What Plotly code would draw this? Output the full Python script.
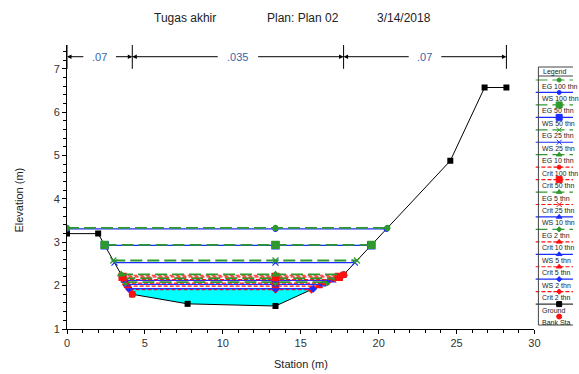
import numpy as np
import plotly.graph_objects as go

# ---------------- data ----------------
ground_sta = [0, 2, 4.19, 7.74, 13.38, 17.75, 24.6, 26.8, 28.2]
ground_elev = [3.2, 3.2, 1.8, 1.58, 1.53, 2.25, 4.88, 6.57, 6.57]
bank_sta = [4.19, 17.75]
bank_elev = [1.8, 2.25]
mann_bounds = [0, 4.19, 17.75, 28.2]
mann_n = [".07", ".035", ".07"]

profiles = ["EG 100 thn", "WS 100 thn", "EG 50 thn", "WS 50 thn", "EG 25 thn",
            "WS 25 thn", "EG 10 thn", "Crit 100 thn", "Crit 50 thn", "EG 5 thn",
            "Crit 25 thn", "WS 10 thn", "EG 2 thn", "Crit 10 thn", "WS 5 thn",
            "Crit 5 thn", "WS 2 thn", "Crit 2 thn"]
levels = [3.33, 3.31, 2.94, 2.93, 2.58, 2.53, 2.26, 2.24, 2.20, 2.17,
          2.14, 2.12, 2.08, 2.06, 2.03, 1.99, 1.93, 1.91]
mid_marker_sta = 13.38
fill_profile = "WS 2 thn"

title_parts = ["Tugas akhir", "Plan: Plan 02", "3/14/2018"]

# ---------------- styles ----------------
GREEN = "#2e9a2e"
BLUE = "#1a2cff"
RED = "#ff1010"
FONT = "Liberation Sans, Arial, sans-serif"

kind_style = {
    "EG": dict(color=GREEN, dash="12px,5px", width=1.8),
    "WS": dict(color=BLUE, dash="solid", width=1.2),
    "Crit": dict(color=RED, dash="4px,2px", width=1.2),
}
period_symbol = {"100": ("circle", 5), "50": ("square", 7), "25": ("x-thin", 6),
                 "10": ("triangle-up", 6), "5": ("triangle-up", 6), "2": ("diamond", 5)}


def crossings(h):
    st = np.array(ground_sta, float)
    el = np.array(ground_elev, float)
    if el[0] <= h:
        left = st[0]
    else:
        left = None
        for i in range(len(st) - 1):
            if el[i] >= h > el[i + 1]:
                left = st[i] + (el[i] - h) / (el[i] - el[i + 1]) * (st[i + 1] - st[i])
                break
    if el[-1] <= h:
        right = st[-1]
    else:
        right = None
        for i in range(len(st) - 1, 0, -1):
            if el[i] >= h > el[i - 1]:
                right = st[i - 1] + (h - el[i - 1]) / (el[i] - el[i - 1]) * (st[i] - st[i - 1])
                break
    return left, right


fig = go.Figure()

# water fill
h_fill = levels[profiles.index(fill_profile)]
lf, rf = crossings(h_fill)
fx = [lf] + [s for s, e in zip(ground_sta, ground_elev) if lf < s < rf] + [rf]
fy = [h_fill] + [e for s, e in zip(ground_sta, ground_elev) if lf < s < rf] + [h_fill]
fig.add_trace(go.Scatter(x=fx, y=fy, fill="toself", fillcolor="#00ffff", mode="lines",
                         line=dict(width=0), showlegend=False, hoverinfo="skip"))

# ground
fig.add_trace(go.Scatter(x=ground_sta, y=ground_elev, mode="lines+markers",
                         line=dict(color="black", width=1),
                         marker=dict(symbol="square", size=6, color="black"),
                         showlegend=False))

# profiles (draw from lowest to highest)
for name, h in reversed(list(zip(profiles, levels))):
    kind, per, _ = name.split(" ")
    st = kind_style[kind]
    sym, sz = period_symbol[per]
    l, r = crossings(h)
    fig.add_trace(go.Scatter(x=[l, r], y=[h, h], mode="lines",
                             line=dict(color=st["color"], dash=st["dash"], width=st["width"]),
                             showlegend=False))
    fig.add_trace(go.Scatter(x=[l, mid_marker_sta, r], y=[h, h, h], mode="markers",
                             marker=dict(symbol=sym, size=sz, color=st["color"],
                                         line=dict(color=st["color"], width=1.2)),
                             showlegend=False))

# bank stations
fig.add_trace(go.Scatter(x=bank_sta, y=bank_elev, mode="markers",
                         marker=dict(symbol="circle", size=7, color=RED), showlegend=False))

# ---------------- layout geometry (page pixels) ----------------
W, H = 579, 374
plot_left, plot_right, plot_top, plot_bottom = 67, 540, 45, 329
ML, MT, MB, MR = plot_left, plot_top, H - plot_bottom, 0
pw = W - ML - MR
ph = H - MT - MB


def px_x(p):          # page pixel -> paper x
    return (p - ML) / pw


def px_y(p):          # page pixel -> paper y
    return (H - MB - p) / ph


annotations = []
shapes = []

# Manning's n dimension lines
n_y = 7.28
for i, lab in enumerate(mann_n):
    a, b = mann_bounds[i], mann_bounds[i + 1]
    c = (a + b) / 2
    hw = (0.95 if len(lab) == 3 else 1.2)
    annotations.append(dict(x=c, y=n_y, xref="x", yref="y", text=lab, showarrow=False,
                            xanchor="center", yanchor="middle",
                            font=dict(family=FONT, size=11, color="#3a64a8")))
    for head, tail in ((a, c - hw), (b, c + hw)):
        annotations.append(dict(x=head, y=n_y, ax=tail, ay=n_y, xref="x", yref="y",
                                axref="x", ayref="y", text="", showarrow=True,
                                arrowhead=2, arrowsize=0.9, arrowwidth=1,
                                arrowcolor="black", standoff=0))
for bnd in mann_bounds:
    shapes.append(dict(type="line", xref="x", yref="y", x0=bnd, x1=bnd, y0=7.0, y1=7.55,
                       line=dict(color="black", width=1)))

# title
for txt, cx in zip(title_parts, [186, 306, 408]):
    annotations.append(dict(x=px_x(cx), y=px_y(18), xref="paper", yref="paper", text=txt,
                            xanchor="center", yanchor="middle",
                            showarrow=False, font=dict(family=FONT, size=12, color="#222")))

# axis titles
annotations.append(dict(x=px_x(304), y=px_y(364), xref="paper", yref="paper",
                        text="Station (m)", showarrow=False, xanchor="center", yanchor="middle",
                        font=dict(family=FONT, size=11, color="#222")))
annotations.append(dict(x=px_x(18), y=px_y(200), xref="paper", yref="paper",
                        text="Elevation (m)", textangle=-90, showarrow=False,
                        xanchor="center", yanchor="middle",
                        font=dict(family=FONT, size=11, color="#222")))

# ---------------- custom legend (x2/y2 in page-pixel units) ----------------
leg_x0, leg_x1 = 541, W
shapes.append(dict(type="rect", xref="x2", yref="y2", x0=544, x1=620, y0=67, y1=325,
                   line=dict(color="#444", width=1), fillcolor="rgba(0,0,0,0)"))
shapes.append(dict(type="line", xref="x2", yref="y2", x0=544, x1=620, y0=76, y1=76,
                   line=dict(color="#444", width=1)))
annotations.append(dict(x=547, y=71.5, xref="x2", yref="y2", text="Legend", showarrow=False,
                        xanchor="left", yanchor="middle",
                        font=dict(family=FONT, size=7, color="#222")))

leg_names = profiles + ["Ground", "Bank Sta"]
step = 12.45
for i, name in enumerate(leg_names):
    ly = 80 + step * i
    if name == "Ground":
        st = dict(color="black", dash="solid", width=1)
        sym, sz = "square", 5
    elif name == "Bank Sta":
        st = None
        sym, sz = "circle", 5
    else:
        kind, per, _ = name.split(" ")
        st = kind_style[kind]
        sym, sz = period_symbol[per]
        sz = sz - 1
    mcol = "black" if name == "Ground" else (RED if st is None else st["color"])
    if st is not None:
        fig.add_trace(go.Scatter(x=[leg_x0, 600], y=[ly, ly], xaxis="x2", yaxis="y2",
                                 mode="lines", showlegend=False, hoverinfo="skip",
                                 line=dict(color=st["color"], dash=st["dash"],
                                           width=min(st["width"], 1.2))))
    fig.add_trace(go.Scatter(x=[565], y=[ly], xaxis="x2", yaxis="y2", mode="markers",
                             showlegend=False, hoverinfo="skip",
                             marker=dict(symbol=sym, size=sz, color=mcol,
                                         line=dict(color=mcol, width=1))))
    annotations.append(dict(x=546, y=ly + 6, xref="x2", yref="y2", text=name,
                            xanchor="left", yanchor="middle", showarrow=False,
                            font=dict(family=FONT, size=7, color="#222")))

tickfont = dict(family=FONT, size=11, color="#333")
fig.update_layout(
    width=W, height=H,
    margin=dict(l=ML, r=MR, t=MT, b=MB, pad=0),
    paper_bgcolor="white", plot_bgcolor="white",
    showlegend=False,
    hovermode=False,
    xaxis=dict(domain=[0, px_x(plot_right)], range=[0, 30], tickvals=[0, 5, 10, 15, 20, 25, 30],
               ticks="outside", ticklen=4, tickcolor="black", showline=True, linecolor="black",
               linewidth=1, showgrid=False, zeroline=False, tickfont=tickfont,
               minor=dict(dtick=1, ticks="outside", ticklen=3, tickcolor="black", showgrid=False)),
    yaxis=dict(range=[1, 7.55], tickvals=[1, 2, 3, 4, 5, 6, 7], ticks="outside", ticklen=4,
               tickcolor="black", showline=True, linecolor="black", linewidth=1,
               showgrid=False, zeroline=False, tickfont=tickfont,
               minor=dict(dtick=0.2, ticks="outside", ticklen=3, tickcolor="black", showgrid=False)),
    xaxis2=dict(domain=[px_x(leg_x0), 1], range=[leg_x0, leg_x1], visible=False, anchor="y2",
                fixedrange=True),
    yaxis2=dict(domain=[0, 1], range=[plot_bottom, plot_top], visible=False, anchor="x2",
                fixedrange=True),
    annotations=annotations,
    shapes=shapes,
)

fig.write_html("out.html",
               config={"displayModeBar": False, "staticPlot": True},
               post_script="document.body.style.margin='0';"
                           "document.body.style.overflow='hidden';"
                           "document.documentElement.style.overflow='hidden';")
